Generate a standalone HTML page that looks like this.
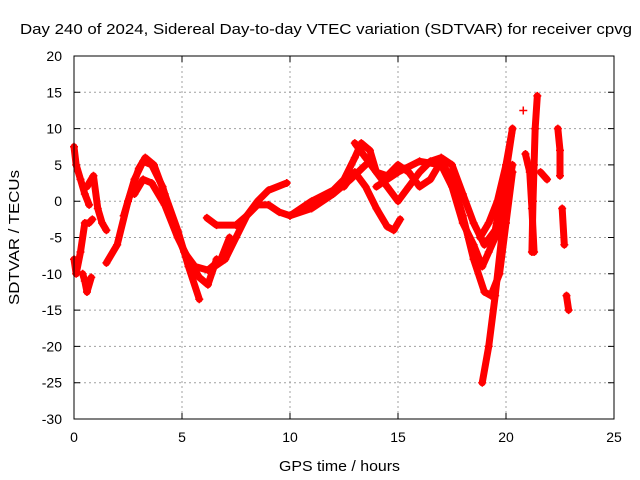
<!DOCTYPE html>
<html><head><meta charset="utf-8"><style>
body{margin:0;background:#fff}
svg{display:block;font-family:"Liberation Sans",sans-serif;font-size:14px}
</style></head><body>
<svg id="c" width="640" height="480">
<text x="20" y="34" textLength="612" lengthAdjust="spacingAndGlyphs" style="font-size:15px">Day 240 of 2024, Sidereal Day-to-day VTEC variation (SDTVAR) for receiver cpvg</text>
<text x="279" y="471" textLength="121" lengthAdjust="spacingAndGlyphs" style="font-size:15px">GPS time / hours</text>
<text transform="translate(19,305) rotate(-90)" textLength="135" lengthAdjust="spacingAndGlyphs" style="font-size:15px">SDTVAR / TECUs</text>
<g id="grid"></g>
<g id="axes"></g>
<g id="series"></g>
<rect x="74" y="56" width="540" height="363" fill="none" stroke="#000"/>
</svg>
<script>
const xTicks=[0,5,10,15,20,25];
const yTicks=[20,15,10,5,0,-5,-10,-15,-20,-25,-30];
const tracks=[
 {t:[0,0.1,0.3,0.5,0.7],v:[7.5,5,3,1,-0.5]},
 {t:[0,0.1,0.3,0.5,0.7,0.85],v:[-8,-10,-7,-3,-3,-2.5]},
 {t:[0.4,0.5,0.6,0.8],v:[-10,-11,-12.5,-10.5]},
 {t:[0.6,0.9,1.1,1.3,1.5],v:[2,3.5,-1,-3,-4]},
 {t:[1.5,2,2.5,3,3.3,3.7,4.2,4.8,5.3,5.8],v:[-8.5,-6,0,4.5,6,5,1,-4,-9,-13.5]},
 {t:[2.3,2.8,3.2,3.6,4.1,4.6,5.1,5.6,6.2,6.8,7.2],v:[-2,3,5.5,5,2,-3,-7,-9,-9.5,-8,-5]},
 {t:[2.8,3.2,3.6,4.2,4.8,5.3,5.8,6.2,6.6],v:[1,3,2.5,-0.5,-5,-8,-10.5,-11.5,-8]},
 {t:[6.15,6.6,7.5,8,8.5,9,9.85],v:[-2.3,-3.3,-3.3,-2,0,1.5,2.5]},
 {t:[6.5,7,7.5,8,8.5,9,9.5,10,11,12,12.8,13.5],v:[-9,-8,-5,-2,-0.5,-0.5,-1.5,-2,-1,1,3,5]},
 {t:[10,11,12,12.5,13,13.3,13.7,14,14.5,15,15.5,16,16.5,17,17.5,18,18.5,19,19.5,20,20.3],v:[-2,0,1.5,3,6,8,7,4,2,0,2,4,5.5,6,5,1,-3,-6,-4,4,10]},
 {t:[12.5,13,13.5,14,14.5,14.8,15.1],v:[2,4,2,-1,-3.5,-4,-2.5]},
 {t:[13,13.5,14,14.5,15,15.5,16,16.5,17,17.5,18,18.5,19,19.3,19.7,20,20.3],v:[8,6,4,3.5,5,4,2,3,5.5,3,-2,-8,-12.5,-13,-10,-3,4]},
 {t:[14,15,16,17,17.5,18,18.5,18.9,19.2,19.5,19.8],v:[2,4,5.5,5,2,-3,-6,-9,-7,-5,1]},
 {t:[18.9,19.2,19.5,19.8,20,20.3],v:[-25,-20,-13,-5,0,5]},
 {t:[18.8,19.2,19.6,20,20.3],v:[-5,-3,0,5,10]},
 {t:[21.45,21.35,21.3,21.25,21.2],v:[14.5,10,5,0,-7]},
 {t:[20.9,21.1,21.2,21.3],v:[6.5,4,-1,-7]},
 {t:[21.6,21.9],v:[4,3]},
 {t:[22.4,22.5,22.5],v:[10,7,3.5]},
 {t:[22.6,22.7],v:[-1,-6]},
 {t:[22.8,22.9],v:[-13,-15]}
];
const singles={t:[20.8],v:[12.5]};
const NS='http://www.w3.org/2000/svg';
const X=t=>74+t*21.6, Y=v=>201.2-v*7.26;
const grid=document.getElementById('grid'),axes=document.getElementById('axes'),ser=document.getElementById('series');
function mk(tag,at,parent){const e=document.createElementNS(NS,tag);for(const k in at)e.setAttribute(k,at[k]);parent.appendChild(e);return e;}
xTicks.forEach(t=>{
 if(t>0&&t<25){const g=mk('line',{x1:X(t),x2:X(t),y1:56,y2:419,stroke:'#a0a0a0','stroke-dasharray':'2,3'},grid);
 
 }
 const tk=mk('path',{d:`M${X(t)},419v-6M${X(t)},56v6`,stroke:'#000'},axes);
 
 
 const l=mk('text',{x:X(t),y:442,'text-anchor':'middle'},axes);l.textContent=t;
 
 
});
yTicks.forEach(v=>{
 if(v<20&&v>-30){const g=mk('line',{x1:74,x2:614,y1:Y(v),y2:Y(v),stroke:'#a0a0a0','stroke-dasharray':'2,3'},grid);
 
 }
 const tk=mk('path',{d:`M74,${Y(v)}h6M614,${Y(v)}h-6`,stroke:'#000'},axes);
 
 
 const l=mk('text',{x:62,y:Y(v)+5,'text-anchor':'end'},axes);l.textContent=v;
 
 
});
function plus(x,y){const p=mk('path',{d:`M${x-4},${y}h8M${x},${y-4}v8`,stroke:'#f00','stroke-width':1.5},ser);
 
 }
tracks.forEach(tr=>{
 const pts=tr.t.map((t,i)=>X(t)+','+Y(tr.v[i])).join(' ');
 const pl=mk('polyline',{points:pts,fill:'none',stroke:'#f00','stroke-width':7,'stroke-linejoin':'round','stroke-linecap':'round'},ser);
 
 
 tr.t.forEach((t,i)=>plus(X(t),Y(tr.v[i])));
});
singles.t.forEach((t,i)=>plus(X(t),Y(singles.v[i])));
</script>
</body></html>
